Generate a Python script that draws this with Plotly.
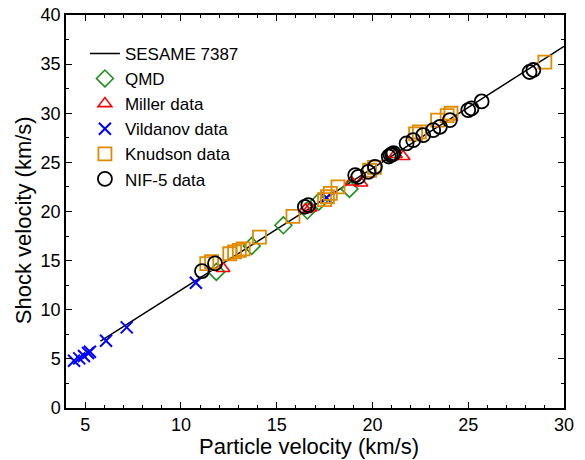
import plotly.graph_objects as go

# SESAME 7387 curve
sesame_up = [5.8, 10.0, 15.0, 20.0, 25.0, 30.0]
sesame_us = [6.8, 12.0, 18.2, 24.4, 30.6, 36.8]

qmd_up = [11.85, 13.7, 15.35, 16.6, 17.2, 18.8]
qmd_us = [13.85, 16.5, 18.6, 20.1, 21.0, 22.3]

miller_up = [12.2, 16.5, 16.75, 18.9, 19.4, 21.2, 21.6]
miller_us = [14.2, 20.2, 20.35, 23.0, 22.9, 25.8, 25.6]

vild_up = [4.42, 4.69, 4.94, 5.15, 5.25, 6.09, 7.17, 10.78, 17.6]
vild_us = [4.81, 5.05, 5.29, 5.6, 5.73, 6.85, 8.21, 12.75, 21.4]

knud_up = [11.35, 11.6, 12.55, 12.8, 13.05, 13.25, 14.1, 15.85, 17.5, 17.65,
           17.8, 18.2, 19.85, 20.1, 22.25, 22.45, 23.4, 23.9, 24.1, 29.0]
knud_us = [14.7, 14.9, 15.7, 15.9, 16.05, 16.2, 17.4, 19.5, 21.2, 21.5,
           21.85, 22.5, 24.2, 24.5, 27.9, 28.1, 29.3, 29.75, 30.0, 35.2]

nif_up = [11.1, 11.78, 16.47, 16.65, 19.1, 19.26, 19.78, 20.13, 20.85, 20.95,
          21.05, 21.1, 21.78, 22.13, 22.65, 23.17, 23.52, 24.04, 25.0, 25.17,
          25.7, 28.2, 28.4]
nif_us = [13.94, 14.72, 20.48, 20.65, 23.7, 23.53, 24.04, 24.55, 25.6, 25.75,
          25.8, 25.95, 26.93, 27.26, 27.77, 28.28, 28.62, 29.3, 30.32, 30.49,
          31.2, 34.2, 34.4]

x_ticks = [5, 10, 15, 20, 25, 30]
y_ticks = [0, 5, 10, 15, 20, 25, 30, 35, 40]
x_title = "Particle velocity (km/s)"
y_title = "Shock velocity (km/s)"

FONT = "Liberation Sans, Arial, Helvetica, sans-serif"

fig = go.Figure()
fig.add_trace(go.Scatter(x=sesame_up, y=sesame_us, mode="lines", name="SESAME 7387",
                         line=dict(color="black", width=1.5)))
fig.add_trace(go.Scatter(x=qmd_up, y=qmd_us, mode="markers", name="QMD",
                         marker=dict(symbol="diamond-open", size=13, color="#1a8f1a",
                                     line=dict(width=1.6, color="#1a8f1a"))))
fig.add_trace(go.Scatter(x=miller_up, y=miller_us, mode="markers", name="Miller data",
                         marker=dict(symbol="triangle-up-open", size=12, color="red",
                                     line=dict(width=1.6, color="red"))))
fig.add_trace(go.Scatter(x=vild_up, y=vild_us, mode="markers", name="Vildanov data",
                         marker=dict(symbol="x-thin-open", size=12, color="blue",
                                     line=dict(width=2, color="blue"))))
fig.add_trace(go.Scatter(x=knud_up, y=knud_us, mode="markers", name="Knudson data",
                         marker=dict(symbol="square-open", size=13, color="#e08a00",
                                     line=dict(width=1.8, color="#e08a00"))))
fig.add_trace(go.Scatter(x=nif_up, y=nif_us, mode="markers", name="NIF-5 data",
                         marker=dict(symbol="circle-open", size=14, color="black",
                                     line=dict(width=1.8, color="black"))))

axis_common = dict(showline=True, linecolor="black", linewidth=1.5, mirror="ticks",
                   ticks="inside", ticklen=6, tickwidth=1.2, tickcolor="black",
                   showgrid=False, zeroline=False, automargin=False,
                   tickfont=dict(family=FONT, size=18, color="black"))

fig.update_xaxes(range=[4, 30], tickvals=x_ticks,
                 minor=dict(ticks="inside", dtick=1, tick0=0, ticklen=3, tickcolor="black"),
                 **axis_common)
fig.update_yaxes(range=[0, 40], tickvals=y_ticks,
                 minor=dict(ticks="inside", dtick=2.5, tick0=0, ticklen=3, tickcolor="black"),
                 **axis_common)

fig.add_annotation(text=x_title, xref="paper", yref="paper", x=0.488, y=0,
                   xanchor="center", yanchor="middle", yshift=-38, showarrow=False,
                   font=dict(family=FONT, size=22, color="black"))
fig.add_annotation(text=y_title, xref="paper", yref="paper", x=0, y=0.478,
                   xanchor="center", yanchor="middle", xshift=-43, textangle=-90,
                   showarrow=False, font=dict(family=FONT, size=22, color="black"))

fig.update_layout(
    width=585, height=460,
    margin=dict(l=66, r=21, t=15, b=52),
    paper_bgcolor="white", plot_bgcolor="white",
    font=dict(family=FONT, size=17, color="black"),
    showlegend=True,
    legend=dict(x=0.038, y=0.947, xanchor="left", yanchor="top",
                bgcolor="rgba(0,0,0,0)", borderwidth=0,
                font=dict(family=FONT, size=17, color="black"),
                tracegroupgap=0, itemwidth=30),
)

fig.write_html("out.html", config={"displayModeBar": False},
               post_script="document.body.style.margin='0px';")
